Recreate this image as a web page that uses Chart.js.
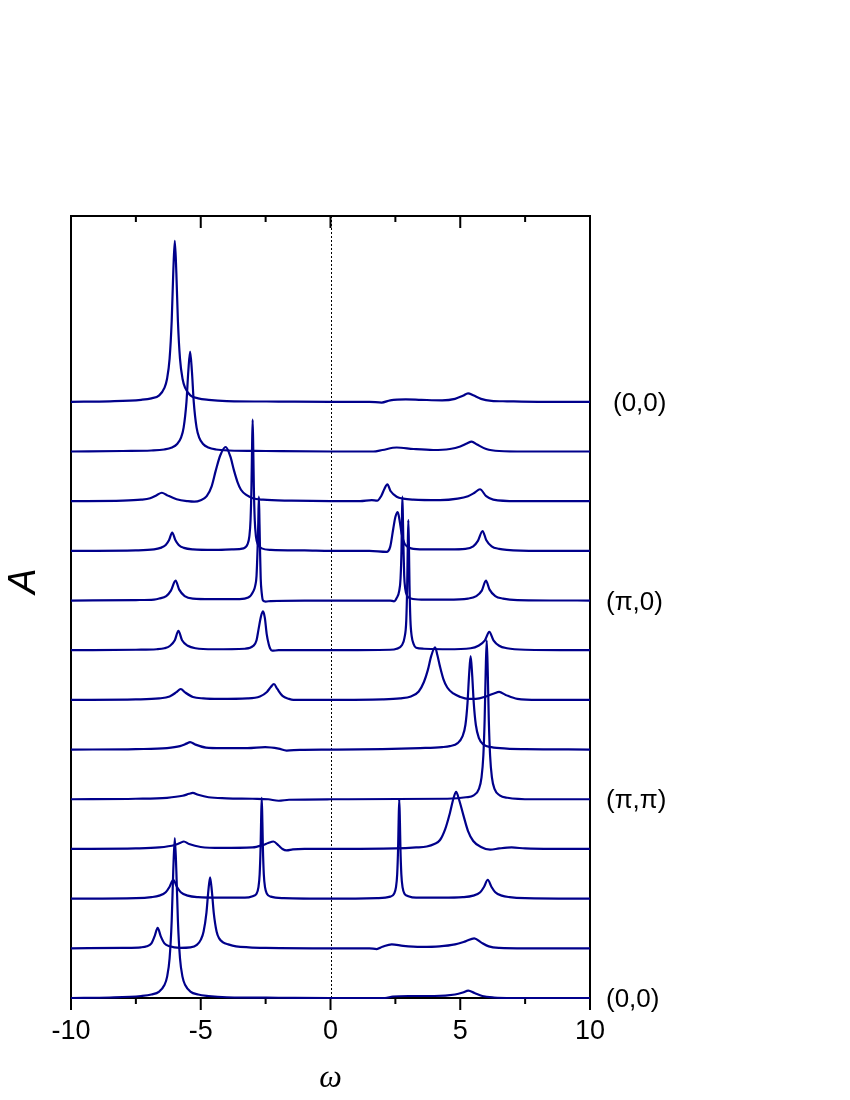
<!DOCTYPE html>
<html>
<head>
<meta charset="utf-8">
<script src="https://cdn.jsdelivr.net/npm/chart.js@4.4.1/dist/chart.umd.min.js"></script>
<style>
  html, body { margin: 0; padding: 0; background: #fff; }
  #c { display: block; }
</style>
</head>
<body>
<canvas id="c" width="850" height="1100"></canvas>
<script>
// ---------- DATA (omega, A above each curve's own baseline) ----------
const omegaMajorTicks = [-10, -5, 0, 5, 10];
const omegaMinorTicks = [-7.5, -2.5, 2.5, 7.5];
const momentumLabels = ['(0,0)', '(π,0)', '(π,π)', '(0,0)'];
const momentumLabelCurve = [0, 4, 8, 12];   // index of curve (from top) the label belongs to

const curve01 = [[-10,0],[-8.5,0.01],[-7.3,0.04],[-6.9,0.07],[-6.6,0.13],[-6.4,0.28],[-6.3,0.46],[-6.2,0.87],[-6.12,1.62],[-6.06,2.59],[-6,3.24],[-5.94,2.59],[-5.88,1.62],[-5.8,0.87],[-5.7,0.46],[-5.6,0.28],[-5.4,0.13],[-5.1,0.07],[-4.7,0.04],[-4,0.015],[-2,0.005],[0,0],[1.5,0],[1.97,-0.015],[2.3,0.03],[2.9,0.05],[3.5,0.04],[4.3,0.03],[4.8,0.06],[5.1,0.12],[5.3,0.17],[5.5,0.13],[5.8,0.06],[6.2,0.02],[6.8,0.01],[8,0],[10,0]];
const curve02 = [[-10,0],[-8,0.01],[-6.91,0.02],[-6.41,0.04],[-6.11,0.08],[-5.91,0.15],[-5.76,0.28],[-5.66,0.48],[-5.55,1.0],[-5.48,1.61],[-5.41,2.01],[-5.34,1.61],[-5.27,1.0],[-5.16,0.48],[-5.06,0.28],[-4.91,0.15],[-4.71,0.08],[-4.41,0.04],[-3.91,0.02],[-2.5,0.01],[0,0],[1.65,0],[2.0,0.03],[2.55,0.08],[3.2,0.05],[3.96,0.03],[4.6,0.05],[5.0,0.1],[5.25,0.16],[5.44,0.2],[5.65,0.14],[6.0,0.05],[6.5,0.01],[7.5,0],[10,0]];
const curve03 = [[-10,0],[-8,0.01],[-7.3,0.03],[-6.95,0.06],[-6.7,0.12],[-6.5,0.17],[-6.3,0.12],[-5.93,0.04],[-5.5,0],[-5.25,-0.01],[-5.0,0.02],[-4.77,0.1],[-4.58,0.3],[-4.42,0.62],[-4.25,0.92],[-4.04,1.09],[-3.86,0.9],[-3.72,0.62],[-3.58,0.38],[-3.45,0.23],[-3.23,0.12],[-3.0,0.06],[-2.6,0.03],[-1.5,0.01],[0,0],[1.14,0],[1.59,0.02],[1.8,0.01],[1.95,0.1],[2.08,0.25],[2.19,0.34],[2.32,0.2],[2.55,0.09],[2.8,0.05],[3.19,0.03],[4.22,0.02],[4.9,0.05],[5.3,0.1],[5.55,0.17],[5.76,0.24],[6.0,0.1],[6.27,0.03],[7.18,0],[10,0]];
const curve04 = [[-10,0],[-7.5,0.01],[-6.8,0.03],[-6.55,0.06],[-6.35,0.12],[-6.22,0.22],[-6.1,0.37],[-5.98,0.22],[-5.85,0.12],[-5.65,0.06],[-5.3,0.03],[-4.5,0.02],[-3.8,0.03],[-3.35,0.05],[-3.2,0.13],[-3.13,0.28],[-3.08,0.63],[-3.045,1.32],[-3.025,2.0],[-3,2.64],[-2.975,2.0],[-2.955,1.32],[-2.92,0.63],[-2.87,0.28],[-2.8,0.13],[-2.65,0.05],[-2.3,0.02],[-1,0.01],[0,0],[1.5,0],[2.16,-0.02],[2.3,0.08],[2.42,0.45],[2.5,0.68],[2.59,0.78],[2.66,0.62],[2.74,0.35],[2.85,0.15],[2.95,0.09],[3.1,0.05],[3.6,0.03],[4.6,0.03],[5.2,0.04],[5.5,0.09],[5.68,0.2],[5.86,0.4],[6.0,0.22],[6.21,0.09],[6.5,0.04],[6.79,0.02],[8,0],[10,0]];
const curve05 = [[-10,0],[-7.5,0.01],[-6.8,0.02],[-6.6,0.04],[-6.33,0.09],[-6.15,0.2],[-5.97,0.4],[-5.83,0.22],[-5.62,0.09],[-5.3,0.04],[-4.6,0.03],[-3.5,0.03],[-3.17,0.06],[-2.97,0.19],[-2.9,0.3],[-2.85,0.5],[-2.81,1.05],[-2.785,1.53],[-2.76,2.09],[-2.735,1.53],[-2.715,1.0],[-2.69,0.45],[-2.65,0.15],[-2.6,0],[-2.5,-0.02],[-2.3,-0.01],[-1,0],[1,0],[2.3,0],[2.45,-0.015],[2.55,0.05],[2.65,0.2],[2.7,0.45],[2.735,1.0],[2.75,1.53],[2.77,2.09],[2.795,1.53],[2.815,1.0],[2.84,0.5],[2.88,0.24],[2.95,0.1],[3.1,0.04],[3.5,0.02],[4.5,0.02],[5.3,0.04],[5.62,0.09],[5.83,0.2],[5.99,0.4],[6.13,0.22],[6.35,0.09],[6.65,0.04],[7.2,0.01],[10,0]];
const curve06 = [[-10,0],[-7.5,0.01],[-6.7,0.02],[-6.4,0.04],[-6.18,0.09],[-6.0,0.2],[-5.86,0.39],[-5.72,0.2],[-5.5,0.09],[-5.2,0.04],[-4.5,0.02],[-3.3,0.03],[-2.97,0.09],[-2.85,0.2],[-2.78,0.4],[-2.68,0.68],[-2.6,0.78],[-2.53,0.65],[-2.46,0.33],[-2.38,0.12],[-2.33,0.04],[-2.25,-0.01],[-2,0],[0,0],[2.3,0.01],[2.55,0.03],[2.75,0.1],[2.85,0.25],[2.92,0.6],[2.955,1.3],[2.975,2.0],[3,2.62],[3.025,2.0],[3.045,1.3],[3.08,0.6],[3.13,0.28],[3.2,0.13],[3.3,0.05],[3.6,0.03],[4.5,0.02],[5.4,0.04],[5.7,0.09],[5.95,0.2],[6.12,0.37],[6.28,0.2],[6.5,0.09],[6.8,0.04],[7.5,0.01],[10,0]];
const curve07 = [[-10,0],[-7.5,0.01],[-6.6,0.03],[-6.2,0.07],[-5.95,0.15],[-5.77,0.22],[-5.6,0.15],[-5.3,0.06],[-4.9,0.03],[-4.3,0.02],[-3.2,0.03],[-2.72,0.07],[-2.45,0.16],[-2.3,0.26],[-2.18,0.32],[-2.05,0.22],[-1.85,0.08],[-1.6,0.02],[-1.43,0],[0,0],[2,0.01],[2.68,0.03],[3.1,0.07],[3.4,0.17],[3.6,0.36],[3.75,0.6],[3.88,0.88],[4.03,1.06],[4.12,0.9],[4.22,0.67],[4.35,0.42],[4.5,0.25],[4.73,0.13],[5.0,0.06],[5.3,0.02],[5.6,0.02],[6.0,0.07],[6.3,0.13],[6.5,0.16],[6.75,0.1],[7.2,0.02],[8,0],[10,0]];
const curve08 = [[-10,0],[-7.5,0.01],[-6.3,0.03],[-5.8,0.07],[-5.55,0.12],[-5.41,0.15],[-5.2,0.1],[-4.8,0.04],[-4.2,0.03],[-3.2,0.03],[-2.52,0.05],[-2.0,0.02],[-1.69,-0.02],[-1.18,-0.005],[0,0],[2,0.01],[3.45,0.03],[4.3,0.05],[4.6,0.07],[4.9,0.13],[5.08,0.26],[5.2,0.5],[5.28,0.94],[5.34,1.5],[5.4,1.88],[5.46,1.5],[5.52,0.94],[5.6,0.5],[5.72,0.23],[5.9,0.1],[6.2,0.05],[6.8,0.02],[7.5,0.01],[10,0]];
const curve09 = [[-10,0],[-7.5,0.01],[-6.3,0.03],[-5.7,0.07],[-5.45,0.11],[-5.31,0.13],[-5.1,0.09],[-4.7,0.04],[-4.0,0.02],[-3,0.01],[-2.4,0],[-2.0,-0.03],[-1.6,-0.01],[0,0],[4.5,0.01],[5.22,0.04],[5.52,0.08],[5.72,0.21],[5.82,0.44],[5.89,0.88],[5.94,1.6],[5.98,2.56],[6.02,3.2],[6.06,2.56],[6.1,1.6],[6.15,0.88],[6.22,0.44],[6.32,0.21],[6.52,0.08],[6.82,0.03],[7.8,0],[10,0]];
const curve10 = [[-10,0],[-7.5,0.01],[-6.6,0.03],[-6.0,0.08],[-5.8,0.12],[-5.65,0.15],[-5.45,0.1],[-5.0,0.04],[-4.2,0.02],[-3.0,0.03],[-2.6,0.08],[-2.4,0.12],[-2.2,0.15],[-2.0,0.07],[-1.85,0.0],[-1.69,-0.03],[-1.45,-0.01],[-1,0],[0,0],[2.5,0.01],[3.3,0.03],[3.71,0.05],[4.0,0.1],[4.22,0.18],[4.42,0.4],[4.6,0.72],[4.74,1.02],[4.84,1.15],[4.95,1.0],[5.12,0.68],[5.3,0.36],[5.5,0.16],[5.8,0.04],[6.15,-0.015],[6.5,0.01],[6.98,0.03],[7.5,0.01],[8.5,0],[10,0]];
const curve11 = [[-10,0],[-7.5,0.01],[-6.9,0.03],[-6.6,0.06],[-6.35,0.13],[-6.2,0.24],[-6.06,0.38],[-5.92,0.24],[-5.77,0.13],[-5.5,0.06],[-5.1,0.03],[-4.3,0.02],[-3.3,0.02],[-3.0,0.05],[-2.85,0.1],[-2.78,0.22],[-2.73,0.49],[-2.695,1.02],[-2.675,1.54],[-2.65,2.03],[-2.625,1.54],[-2.605,1.02],[-2.57,0.49],[-2.52,0.22],[-2.45,0.1],[-2.3,0.04],[-1.8,0.01],[0,0],[1.8,0.01],[2.3,0.04],[2.45,0.1],[2.52,0.22],[2.57,0.49],[2.605,1.02],[2.625,1.54],[2.65,2.0],[2.675,1.54],[2.695,1.02],[2.73,0.49],[2.78,0.22],[2.85,0.1],[3.0,0.05],[3.3,0.02],[4.3,0.02],[5.1,0.03],[5.5,0.06],[5.77,0.13],[5.92,0.24],[6.06,0.38],[6.2,0.24],[6.35,0.13],[6.6,0.06],[6.9,0.03],[7.5,0.01],[10,0]];
const curve12 = [[-10,0],[-8,0.01],[-7.3,0.02],[-7.08,0.04],[-6.9,0.1],[-6.78,0.24],[-6.66,0.41],[-6.54,0.24],[-6.4,0.1],[-6.2,0.04],[-5.8,0.01],[-5.4,0.02],[-5.15,0.07],[-4.99,0.18],[-4.89,0.34],[-4.78,0.72],[-4.71,1.14],[-4.64,1.43],[-4.57,1.14],[-4.5,0.72],[-4.39,0.34],[-4.29,0.2],[-4.14,0.12],[-3.94,0.08],[-3.64,0.04],[-3.14,0.02],[-2.5,0.01],[0,0],[1.5,0],[1.78,-0.015],[2.0,0.03],[2.36,0.08],[2.8,0.05],[3.5,0.03],[4.2,0.04],[4.8,0.08],[5.2,0.14],[5.54,0.2],[5.8,0.12],[6.1,0.04],[6.5,0.01],[7.5,0],[10,0]];
const curve13 = [[-10,0],[-8.5,0.01],[-7.3,0.04],[-6.9,0.07],[-6.6,0.13],[-6.4,0.26],[-6.3,0.42],[-6.2,0.8],[-6.12,1.55],[-6.06,2.55],[-6,3.22],[-5.94,2.55],[-5.88,1.55],[-5.8,0.8],[-5.7,0.42],[-5.6,0.26],[-5.4,0.13],[-5.1,0.07],[-4.7,0.04],[-4,0.015],[-2,0.005],[0,0],[1.5,0],[2.1,0],[2.4,0.03],[3,0.04],[4,0.04],[4.8,0.07],[5.1,0.11],[5.31,0.15],[5.55,0.1],[5.85,0.04],[6.3,0.01],[7,0],[10,0]];

const spectra = [curve01, curve02, curve03, curve04, curve05, curve06, curve07, curve08, curve09, curve10, curve11, curve12, curve13];

// ---------- CHART ----------
const LINE = '#00008B';
const nCurves = spectra.length;
const offsetOf = i => (nCurves - 1 - i);   // vertical stacking: one unit per curve

const datasets = spectra.map((pts, i) => ({
  label: 'curve ' + (i + 1),
  data: pts.map(p => ({ x: p[0], y: p[1] + offsetOf(i) })),
  showLine: true,
  borderColor: LINE,
  borderWidth: 2.2,
  pointRadius: 0,
  fill: false,
  cubicInterpolationMode: 'monotone',
  clip: false
}));

const framePlugin = {
  id: 'frame',
  beforeDatasetsDraw(chart) {
    const { ctx, chartArea: a, scales: { x } } = chart;
    ctx.save();
    // dotted line at omega = 0
    ctx.strokeStyle = '#000';
    ctx.lineWidth = 1;
    ctx.setLineDash([2, 2]);
    const x0 = Math.round(x.getPixelForValue(0)) + 0.5;
    ctx.beginPath(); ctx.moveTo(x0, a.top); ctx.lineTo(x0, a.bottom); ctx.stroke();
    ctx.setLineDash([]);
    // frame
    ctx.lineWidth = 2;
    ctx.strokeRect(a.left, a.top, a.right - a.left, a.bottom - a.top);
    // ticks: top (pointing in) and bottom (pointing out), all downward
    const tick = (v, len) => {
      const px = x.getPixelForValue(v);
      ctx.beginPath();
      ctx.moveTo(px, a.top); ctx.lineTo(px, a.top + len);
      ctx.moveTo(px, a.bottom); ctx.lineTo(px, a.bottom + len);
      ctx.stroke();
    };
    omegaMajorTicks.forEach(v => tick(v, 12));
    omegaMinorTicks.forEach(v => tick(v, 6));
    ctx.restore();
  },
  afterDraw(chart) {
    const { ctx, chartArea: a, scales: { x, y } } = chart;
    ctx.save();
    ctx.fillStyle = '#000';
    // y title
    ctx.save();
    ctx.translate(24, 581);
    ctx.rotate(-Math.PI / 2);
    ctx.font = 'italic 38px "Liberation Sans", Arial, sans-serif';
    ctx.textAlign = 'center';
    ctx.textBaseline = 'middle';
    ctx.fillText('A', 0, 0);
    ctx.restore();
    // x title
    ctx.font = 'italic 32px "Liberation Serif", "Times New Roman", serif';
    ctx.textAlign = 'center';
    ctx.textBaseline = 'middle';
    ctx.fillText('ω', (a.left + a.right) / 2, 1079);
    // momentum labels at right
    ctx.font = '26px "Liberation Sans", Arial, sans-serif';
    ctx.textAlign = 'left';
    momentumLabels.forEach((t, j) => {
      const yy = y.getPixelForValue(offsetOf(momentumLabelCurve[j]));
      const xx = j === 0 ? a.right + 23 : a.right + 16;
      ctx.fillText(t, xx, yy + 2);
    });
    ctx.restore();
  }
};

new Chart(document.getElementById('c'), {
  type: 'scatter',
  data: { datasets },
  options: {
    responsive: false,
    animation: false,
    devicePixelRatio: 1,
    layout: { padding: { top: 216, right: 260, left: 0, bottom: 0 } },
    plugins: { legend: { display: false }, tooltip: { enabled: false } },
    scales: {
      x: {
        type: 'linear', min: -10, max: 10,
        afterFit: s => { s.height = 102; },
        grid: { display: false, drawTicks: false },
        border: { display: false },
        afterBuildTicks: s => { s.ticks = omegaMajorTicks.map(v => ({ value: v })); },
        ticks: {
          padding: 17, color: '#000', maxRotation: 0, autoSkip: false,
          font: { family: '"Liberation Sans", Arial, sans-serif', size: 27 },
          callback: v => String(v)
        }
      },
      y: {
        type: 'linear', min: 0, max: 15.74,
        afterFit: s => { s.width = 71; },
        grid: { display: false, drawTicks: false },
        border: { display: false },
        ticks: { display: false }
      }
    }
  },
  plugins: [framePlugin]
});
</script>
</body>
</html>
